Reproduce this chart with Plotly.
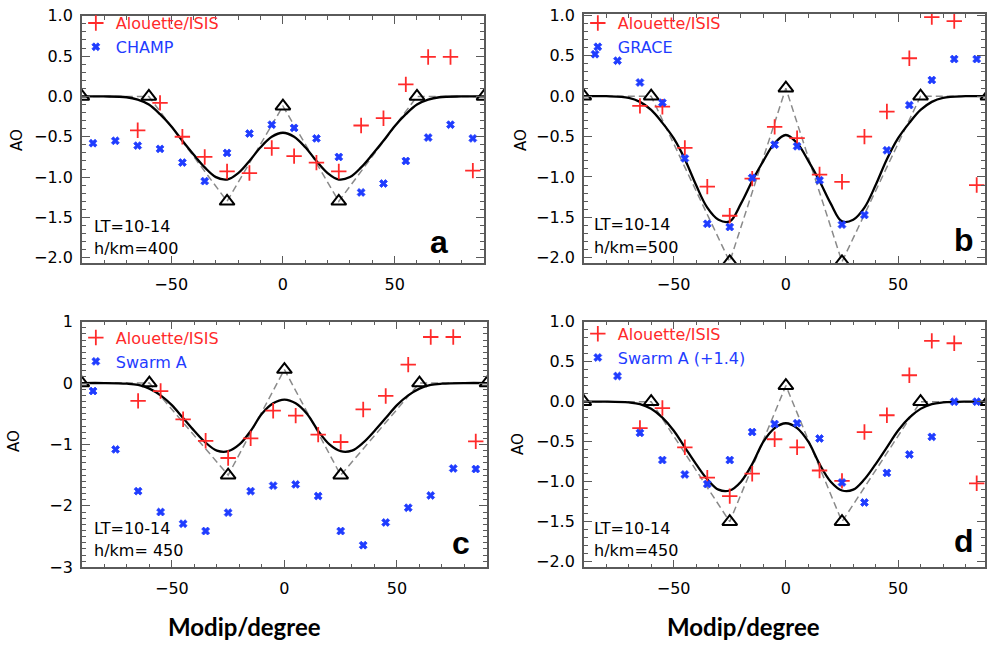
import plotly.graph_objects as go

W, H = 987, 654

# Modip bins of the observations (degrees)
alouette_modip = [-65, -55, -45, -35, -25, -15, -5, 5, 15, 25, 35, 45, 55, 65, 75, 85]
sat_modip = [-85, -75, -65, -55, -45, -35, -25, -15, -5, 5, 15, 25, 35, 45, 55, 65, 75, 85]

# Alouette/ISIS anomaly values per panel
alouette_a = [-0.42, -0.08, -0.50, -0.75, -0.93, -0.95, -0.64, -0.74, -0.82, -0.93,
              -0.36, -0.27, 0.15, 0.49, 0.49, -0.92]
alouette_b = [-0.12, -0.13, -0.64, -1.12, -1.48, -1.02, -0.38, -0.52, -0.97, -1.06,
              -0.50, -0.19, 0.47, 0.98, 0.93, -1.10]
alouette_c = [-0.29, -0.13, -0.59, -0.94, -1.22, -0.90, -0.45, -0.53, -0.84, -0.96,
              -0.43, -0.21, 0.30, 0.75, 0.75, -0.95]
alouette_d = [-0.33, -0.08, -0.57, -0.95, -1.18, -0.90, -0.47, -0.57, -0.86, -0.99,
              -0.38, -0.17, 0.33, 0.76, 0.73, -1.02]

# Satellite anomaly values per panel
champ_a = [-0.58, -0.55, -0.61, -0.65, -0.82, -1.05, -0.70, -0.46, -0.35, -0.39,
           -0.52, -0.75, -1.19, -1.08, -0.80, -0.51, -0.35, -0.52]
grace_b = [0.52, 0.44, 0.17, -0.08, -0.77, -1.58, -1.62, -1.01, -0.60, -0.62,
           -1.04, -1.59, -1.47, -0.67, -0.11, 0.20, 0.46, 0.46]
swarm_c = [-0.13, -1.08, -1.76, -2.10, -2.29, -2.41, -2.11, -1.76, -1.67, -1.65,
           -1.84, -2.41, -2.64, -2.27, -2.03, -1.83, -1.39, -1.40]
swarm_d = [1.27, 0.32, -0.39, -0.73, -0.91, -1.03, -0.73, -0.38, -0.28, -0.27,
           -0.46, -1.01, -1.26, -0.89, -0.66, -0.44, 0.00, 0.00]

# Model nodes (triangles joined by the dashed line)
node_modip = [-90, -60, -25, 0, 25, 60, 90]
nodes_a = [0, 0, -1.30, -0.12, -1.30, 0, 0]
nodes_b = [0, 0, -2.05, 0.10, -2.05, 0, 0]
nodes_c = [0, 0, -1.50, 0.22, -1.50, 0, 0]
nodes_d = [0, 0, -1.50, 0.20, -1.50, 0, 0]

# Smoothed model curve
curve_modip = [-90, -80, -70, -65, -60, -55, -50, -45, -40, -35, -30, -25, -20, -15, -10, -5, 0,
               5, 10, 15, 20, 25, 30, 35, 40, 45, 50, 55, 60, 65, 70, 80, 90]
curve_a = [0, 0, -0.01, -0.04, -0.10, -0.22, -0.37, -0.55, -0.72, -0.88, -1.00, -1.03, -0.95,
           -0.80, -0.63, -0.50, -0.45,
           -0.50, -0.63, -0.80, -0.95, -1.03, -1.00, -0.88, -0.72, -0.55, -0.37, -0.22,
           -0.10, -0.04, -0.01, 0, 0]
curve_b = [0, 0, -0.02, -0.07, -0.17, -0.33, -0.52, -0.78, -1.10, -1.38, -1.53, -1.55, -1.33,
           -1.05, -0.80, -0.58, -0.48,
           -0.58, -0.80, -1.05, -1.33, -1.55, -1.53, -1.38, -1.10, -0.78, -0.52, -0.33,
           -0.17, -0.07, -0.02, 0, 0]
curve_cd = [0, 0, -0.01, -0.03, -0.09, -0.20, -0.36, -0.57, -0.78, -0.97, -1.10, -1.11, -1.00,
            -0.78, -0.50, -0.33, -0.27,
            -0.33, -0.50, -0.78, -1.00, -1.11, -1.10, -0.97, -0.78, -0.57, -0.36, -0.20,
            -0.09, -0.03, -0.01, 0, 0]

panels = [
    dict(ax="", sat="CHAMP", alo=alouette_a, satv=champ_a, nodes=nodes_a, curve=curve_a,
         lt="LT=10-14", h="h/km=400", letter="a"),
    dict(ax="2", sat="GRACE", alo=alouette_b, satv=grace_b, nodes=nodes_b, curve=curve_b,
         lt="LT=10-14", h="h/km=500", letter="b"),
    dict(ax="3", sat="Swarm A", alo=alouette_c, satv=swarm_c, nodes=nodes_c, curve=curve_cd,
         lt="LT=10-14", h="h/km= 450", letter="c"),
    dict(ax="4", sat="Swarm A (+1.4)", alo=alouette_d, satv=swarm_d, nodes=nodes_d, curve=curve_cd,
         lt="LT=10-14", h="h/km=450", letter="d"),
]

RED = "#ff2a2a"
BLUE = "#1f3cff"
FRAME = "#5a5a5a"
IDL_FONT = "DejaVu Sans"

fig = go.Figure()

for i, p in enumerate(panels):
    xa, ya = "x" + p["ax"], "y" + p["ax"]
    leg = "legend" if i == 0 else "legend" + str(i + 1)
    fig.add_trace(go.Scatter(x=node_modip, y=p["nodes"], xaxis=xa, yaxis=ya, mode="lines",
                             line=dict(color="#8a8a8a", width=1.5, dash="7px,4px"),
                             showlegend=False, hoverinfo="skip"))
    fig.add_trace(go.Scatter(x=curve_modip, y=p["curve"], xaxis=xa, yaxis=ya, mode="lines",
                             line=dict(color="black", width=2.3, shape="spline", smoothing=1),
                             showlegend=False))
    fig.add_trace(go.Scatter(x=node_modip, y=p["nodes"], xaxis=xa, yaxis=ya, mode="markers",
                             marker=dict(symbol="triangle-up-open", size=13, color="black",
                                         line=dict(width=2, color="black")),
                             showlegend=False))
    fig.add_trace(go.Scatter(x=alouette_modip, y=p["alo"], xaxis=xa, yaxis=ya, mode="markers",
                             name=f"<span style='color:{RED}'>Alouette/ISIS</span>",
                             marker=dict(symbol="cross-thin-open", size=11, color=RED,
                                         line=dict(width=1.8, color=RED)),
                             legend=leg))
    fig.add_trace(go.Scatter(x=sat_modip, y=p["satv"], xaxis=xa, yaxis=ya, mode="markers",
                             name=f"<span style='color:{BLUE}'>{p['sat']}</span>",
                             marker=dict(symbol="x", size=7, color=BLUE,
                                         line=dict(width=0.8, color=BLUE)),
                             legend=leg))


def px_x(v):
    return v / W


def px_y(v):
    return 1 - v / H


axis_common = dict(showgrid=False, zeroline=False, showline=True, linecolor=FRAME, linewidth=1.5,
                   mirror="ticks", ticks="inside", ticklen=8, tickwidth=1.3, tickcolor=FRAME,
                   tickfont=dict(family=IDL_FONT, size=16, color="black"))

# panel frames in pixels: (left, right, top, bottom)
frames = {
    "": (82, 485, 7, 262),
    "2": (585, 987, 5, 262),
    "3": (82, 488, 322, 575),
    "4": (585, 987, 322, 575),
}
yranges = {"": [-2.07, 1.0], "2": [-2.07, 1.02], "3": [-3, 1], "4": [-2.07, 1.0]}
xranges = {"": [-90, 90], "2": [-90, 88.7], "3": [-90, 90], "4": [-90, 88.7]}

layout = dict(width=W, height=H, margin=dict(l=0, r=0, t=0, b=0),
              paper_bgcolor="white", plot_bgcolor="white")

for k, (l, r, t, b) in frames.items():
    layout["xaxis" + k] = dict(axis_common, domain=[px_x(l), min(px_x(r), 1)], range=xranges[k],
                               anchor="y" + k, tick0=0, dtick=50, ticklabelstandoff=6,
                               minor=dict(ticks="inside", ticklen=4, dtick=10, tickcolor=FRAME,
                                          tickwidth=1.1))
    ydt = 1 if k == "3" else 0.5
    fmt = "d" if k == "3" else ".1f"
    layout["yaxis" + k] = dict(axis_common, domain=[px_y(b), px_y(t)], range=yranges[k],
                               anchor="x" + k, tick0=0, dtick=ydt, tickformat=fmt,
                               ticklabelstandoff=4,
                               minor=dict(ticks="inside", ticklen=4, dtick=0.1,
                                          tickcolor=FRAME, tickwidth=1.1))

legend_pos = [(76, -3), (579, -3), (76, 321), (579, 317)]
for i, (lx, ly) in enumerate(legend_pos):
    key = "legend" if i == 0 else "legend" + str(i + 1)
    layout[key] = dict(x=px_x(lx), y=px_y(ly), xanchor="left", yanchor="top",
                       bgcolor="rgba(0,0,0,0)", font=dict(family=IDL_FONT, size=16),
                       itemwidth=30, tracegroupgap=0)

annotations = []
text_pos = [((92, 224), (92, 247)), ((593, 222), (593, 246)),
            ((92, 535), (92, 558)), ((593, 535), (593, 558))]
letter_pos = [(440, 240), (966, 238), (462, 550), (966, 548)]
ao_pos = [(17, 135), (522, 135), (14, 445), (519, 448)]
for p, (lt_xy, h_xy), lp, ap in zip(panels, text_pos, letter_pos, ao_pos):
    for txt, (tx, ty) in ((p["lt"], lt_xy), (p["h"], h_xy)):
        annotations.append(dict(text=txt, x=px_x(tx), y=px_y(ty), xref="paper", yref="paper",
                                xanchor="left", yanchor="middle", showarrow=False,
                                font=dict(family=IDL_FONT, size=16, color="black")))
    annotations.append(dict(text=f"<b>{p['letter']}</b>", x=px_x(lp[0]), y=px_y(lp[1]),
                            xref="paper", yref="paper", xanchor="center", yanchor="middle",
                            showarrow=False,
                            font=dict(family="Liberation Sans", size=32, color="black")))
    annotations.append(dict(text="AO", x=px_x(ap[0]), y=px_y(ap[1]), xref="paper", yref="paper",
                            xanchor="center", yanchor="middle", showarrow=False, textangle=-90,
                            font=dict(family=IDL_FONT, size=15, color="black")))

for cx in (245, 745):
    annotations.append(dict(text="<b>Modip/degree</b>", x=px_x(cx), y=px_y(636), xref="paper",
                            yref="paper", xanchor="center", yanchor="middle", showarrow=False,
                            font=dict(family="Lato", size=24, color="black")))

layout["annotations"] = annotations
fig.update_layout(**layout)

fig.write_html("out.html")
